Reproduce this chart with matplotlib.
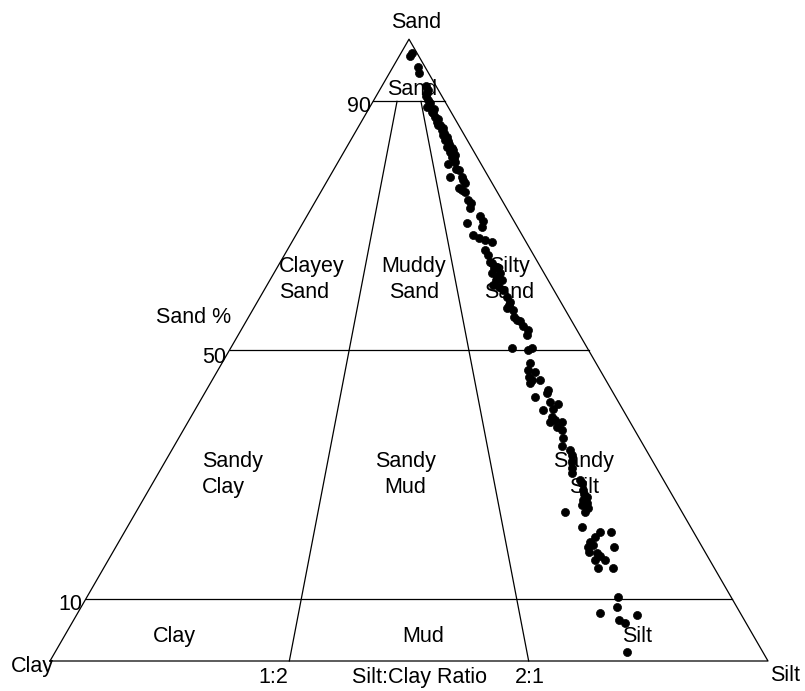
import numpy as np
import matplotlib
matplotlib.use("Agg")
import matplotlib.pyplot as plt

plt.rcParams['font.family'] = ['Liberation Sans', 'DejaVu Sans']

# Sand % and Silt % for each sample (clay = 100 - sand - silt)
sand_pct = [
    97.7, 97.3, 95.6, 94.6, 92.4, 91.8, 90.8, 89.1, 89.7, 88.3,
    87.5, 86.7, 86.2, 85.4, 84.6, 83.8, 82.7, 81.9, 81.1, 80.0,
    80.3, 79.2, 77.9, 77.9, 76.8, 76.0, 75.7, 75.5, 74.1, 73.6,
    72.8, 70.4, 71.5, 70.7, 69.8, 68.5, 68.0, 67.7, 67.4, 66.1,
    65.3, 64.0, 63.4, 62.4, 62.4, 61.3, 61.3, 60.5, 60.2, 58.6,
    57.8, 56.7, 56.5, 55.4, 54.6, 53.8, 53.2, 52.4, 50.3, 50.0,
    50.3, 47.9, 46.8, 46.5, 45.7, 45.2, 45.2, 44.7, 43.6, 42.5,
    43.1, 41.7, 41.4, 40.4, 40.6, 39.3, 38.5, 38.8, 38.5, 37.7,
    37.2, 35.8, 34.5, 33.9, 33.1, 32.1, 31.0, 30.2, 29.1, 28.6,
    25.9, 25.1, 25.4, 24.0, 24.0, 21.6, 20.8, 20.8, 20.0, 19.2,
    18.4, 18.4, 17.6, 17.3, 16.2, 16.2, 14.9, 14.9, 10.3, 8.7,
    7.7, 7.4, 6.6, 6.1, 1.5,
    27.5, 26.4, 24.6, 18.7, 16.9, 88.1, 87.2, 85.7, 84.3, 83.1,
    82.2, 81.4, 90.2, 63.2, 59.7, 57.3, 54.8,
    86.2, 84.9, 83.6, 82.5, 80.9, 79.0, 77.4, 88.8, 91.4, 61.8,
    64.2, 26.9,
]
silt_pct = [
    1.5, 1.5, 3.5, 4.1, 6.1, 6.7, 7.0, 7.9, 8.1, 9.0,
    9.9, 10.5, 11.2, 11.9, 12.5, 13.1, 13.9, 14.8, 15.4, 15.5,
    16.3, 17.0, 16.8, 18.4, 19.4, 18.9, 19.5, 20.1, 21.2, 21.9,
    22.1, 22.9, 24.2, 25.0, 25.2, 24.7, 25.7, 26.7, 27.8, 27.5,
    28.4, 29.5, 30.5, 30.3, 31.5, 31.4, 32.3, 31.5, 32.4, 34.3,
    35.2, 35.3, 36.3, 36.9, 38.2, 39.0, 40.0, 40.2, 39.2, 41.6,
    42.0, 42.9, 43.2, 44.3, 43.8, 44.5, 45.7, 44.5, 47.6, 46.3,
    47.7, 48.8, 50.1, 48.5, 49.8, 50.2, 50.4, 51.0, 52.0, 51.7,
    52.7, 53.6, 54.0, 55.5, 56.1, 56.6, 57.2, 57.6, 59.3, 59.8,
    61.3, 61.5, 62.1, 62.5, 59.7, 63.3, 66.2, 67.8, 65.9, 65.6,
    65.8, 69.3, 66.2, 67.5, 67.8, 69.2, 68.9, 71.0, 74.0, 74.6,
    72.8, 78.0, 75.9, 77.1, 79.6,
    60.5, 61.6, 62.6, 66.3, 68.2, 9.3, 10.5, 11.9, 13.2, 14.0,
    15.0, 15.7, 7.5, 30.2, 33.3, 35.3, 37.6,
    10.9, 12.4, 13.6, 14.7, 15.8, 17.5, 18.8, 9.1, 6.8, 31.4,
    29.2, 60.9,
]

# Folk classes
sand_levels = [90, 50, 10]
sand_level_labels = ['90', '50', '10']
ratio_levels = [1 / 3, 2 / 3]   # silt fraction of mud for 1:2 and 2:1
ratio_labels = ['1:2', '2:1']

H = np.sqrt(3) / 2


def tern(sand, silt):
    """sand, silt as fractions -> cartesian (clay at origin, silt at (1,0))"""
    sand = np.asarray(sand)
    silt = np.asarray(silt)
    return silt + sand / 2, sand * H


def px(x, y):
    # place labels using pixel positions of the 805x691 image
    return (x - 50) / 718, (661 - y) / 718


fig = plt.figure(figsize=(8.05, 6.91), dpi=100)
ax = fig.add_axes([0, 0, 1, 1])
ax.set_xlim(-50 / 718, 755 / 718)
ax.set_ylim(-30 / 718, 661 / 718)
ax.axis('off')

lc = dict(color='black', lw=0.9)

# outer triangle
tx, ty = tern([0, 0, 1, 0], [0, 1, 0, 0])
ax.plot(tx, ty, **lc)

# sand % lines
for s in sand_levels:
    f = s / 100
    lx, ly = tern([f, f], [0, 1 - f])
    ax.plot(lx, ly, **lc)

# silt:clay ratio lines (stop at 90 % sand)
for r in ratio_levels:
    lx, ly = tern([0, 0.9], [r, r * 0.1])
    ax.plot(lx, ly, **lc)

# samples
sx, sy = tern(np.array(sand_pct) / 100, np.array(silt_pct) / 100)
ax.plot(sx, sy, 'o', color='black', ms=5.8, mec='black', mew=0.5, zorder=5)

fs = 15.5
txt = dict(fontsize=fs, color='black', va='baseline', linespacing=1.3)

# corner labels
ax.text(*px(416, 28), 'Sand', ha='center', **txt)
ax.text(*px(32, 672), 'Clay', ha='center', **txt)
ax.text(*px(785, 681), 'Silt', ha='center', **txt)

# axis annotations
ax.text(*px(371, 112), sand_level_labels[0], ha='right', **txt)
ax.text(*px(226, 363), sand_level_labels[1], ha='right', **txt)
ax.text(*px(82, 610), sand_level_labels[2], ha='right', **txt)
ax.text(*px(194, 323), 'Sand %', ha='center', **txt)
ax.text(*px(273, 683), ratio_labels[0], ha='center', **txt)
ax.text(*px(530, 683), ratio_labels[1], ha='center', **txt)
ax.text(*px(419, 683), 'Silt:Clay Ratio', ha='center', **txt)

# class labels
ax.text(*px(412, 95), 'Sand', ha='center', **txt)
ax.text(*px(279, 298), 'Clayey\nSand', ha='left', multialignment='left', **txt)
ax.text(*px(414, 298), 'Muddy\nSand', ha='center', multialignment='center', **txt)
ax.text(*px(509, 298), 'Silty\nSand', ha='center', multialignment='center', **txt)
ax.text(*px(202, 493), 'Sandy\nClay', ha='left', multialignment='left', **txt)
ax.text(*px(405, 493), 'Sandy\nMud', ha='center', multialignment='center', **txt)
ax.text(*px(584, 493), 'Sandy\nSilt', ha='center', multialignment='center', **txt)
ax.text(*px(153, 642), 'Clay', ha='left', **txt)
ax.text(*px(423, 642), 'Mud', ha='center', **txt)
ax.text(*px(637, 642), 'Silt', ha='center', **txt)

fig.savefig('out.png', dpi=100)
